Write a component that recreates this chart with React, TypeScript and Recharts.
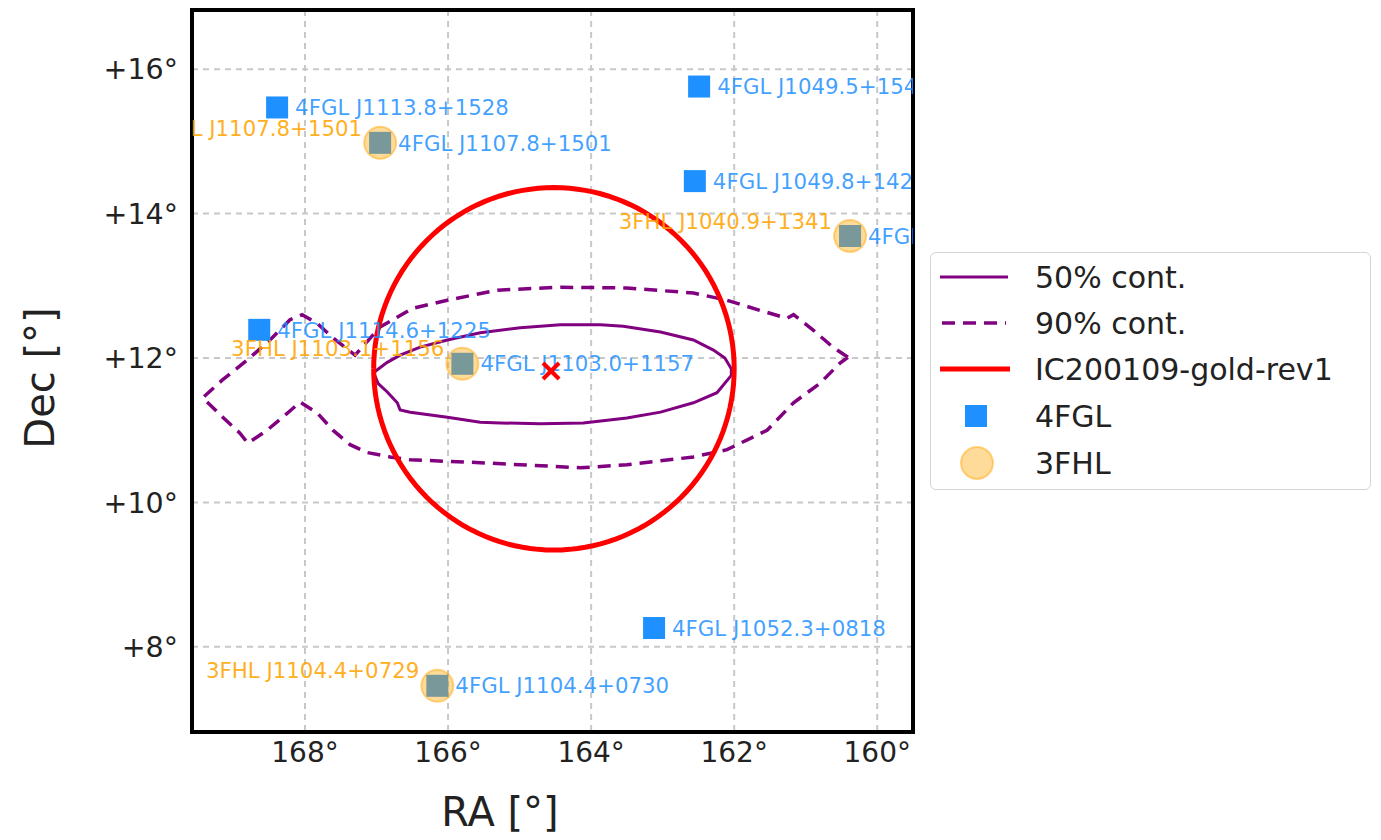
import React from 'react';
import { ComposedChart, Line, Scatter, XAxis, YAxis, CartesianGrid, ReferenceArea } from 'recharts';

const FONT = '"DejaVu Sans", sans-serif';

const RA_TICKS = [168, 166, 164, 162, 160];
const DEC_TICKS = [8, 10, 12, 14, 16];
const RA_DOMAIN: [number, number] = [159.5, 169.58];
const DEC_DOMAIN: [number, number] = [6.82, 16.82];

// 4FGL sources (blue squares)
const FGL4 = [
  { name: '4FGL J1113.8+1528', ra: 168.39, dec: 15.47 },
  { name: '4FGL J1107.8+1501', ra: 166.95, dec: 14.98 },
  { name: '4FGL J1049.5+1548', ra: 162.49, dec: 15.76 },
  { name: '4FGL J1049.8+1429', ra: 162.55, dec: 14.45 },
  { name: '4FGL J1040.8+1342', ra: 160.38, dec: 13.69 },
  { name: '4FGL J1114.6+1225', ra: 168.64, dec: 12.39 },
  { name: '4FGL J1103.0+1157', ra: 165.8, dec: 11.92 },
  { name: '4FGL J1052.3+0818', ra: 163.12, dec: 8.26 },
  { name: '4FGL J1104.4+0730', ra: 166.15, dec: 7.46 },
];

// 3FHL sources (orange circles)
const FHL3 = [
  { name: '3FHL J1107.8+1501', ra: 166.95, dec: 14.98 },
  { name: '3FHL J1040.9+1341', ra: 160.38, dec: 13.69 },
  { name: '3FHL J1103.1+1156', ra: 165.8, dec: 11.92 },
  { name: '3FHL J1104.4+0729', ra: 166.15, dec: 7.46 },
];

// 50% containment contour
const CONT50 = [
  { ra: 167.04, dec: 11.8 },
  { ra: 166.85, dec: 11.94 },
  { ra: 166.67, dec: 12.04 },
  { ra: 166.39, dec: 12.15 },
  { ra: 166.01, dec: 12.25 },
  { ra: 165.55, dec: 12.35 },
  { ra: 164.99, dec: 12.42 },
  { ra: 164.43, dec: 12.46 },
  { ra: 163.87, dec: 12.46 },
  { ra: 163.55, dec: 12.44 },
  { ra: 163.03, dec: 12.36 },
  { ra: 162.57, dec: 12.25 },
  { ra: 162.29, dec: 12.11 },
  { ra: 162.13, dec: 12.0 },
  { ra: 162.04, dec: 11.85 },
  { ra: 162.04, dec: 11.76 },
  { ra: 162.24, dec: 11.52 },
  { ra: 162.57, dec: 11.38 },
  { ra: 163.03, dec: 11.25 },
  { ra: 163.5, dec: 11.17 },
  { ra: 164.11, dec: 11.1 },
  { ra: 164.71, dec: 11.09 },
  { ra: 165.27, dec: 11.1 },
  { ra: 165.55, dec: 11.11 },
  { ra: 166.01, dec: 11.18 },
  { ra: 166.53, dec: 11.25 },
  { ra: 166.67, dec: 11.28 },
  { ra: 166.71, dec: 11.38 },
  { ra: 166.85, dec: 11.53 },
  { ra: 166.98, dec: 11.65 },
  { ra: 167.04, dec: 11.8 },
];

// 90% containment contour
const CONT90 = [
  { ra: 160.41, dec: 12.01 },
  { ra: 160.62, dec: 12.15 },
  { ra: 160.9, dec: 12.39 },
  { ra: 161.17, dec: 12.6 },
  { ra: 161.26, dec: 12.55 },
  { ra: 161.64, dec: 12.66 },
  { ra: 162.1, dec: 12.8 },
  { ra: 162.57, dec: 12.9 },
  { ra: 163.5, dec: 12.97 },
  { ra: 164.43, dec: 12.98 },
  { ra: 165.31, dec: 12.94 },
  { ra: 166.01, dec: 12.8 },
  { ra: 166.49, dec: 12.69 },
  { ra: 166.95, dec: 12.43 },
  { ra: 167.3, dec: 12.04 },
  { ra: 167.61, dec: 12.28 },
  { ra: 167.83, dec: 12.48 },
  { ra: 168.04, dec: 12.6 },
  { ra: 168.21, dec: 12.53 },
  { ra: 168.49, dec: 12.25 },
  { ra: 168.81, dec: 11.97 },
  { ra: 169.15, dec: 11.7 },
  { ra: 169.43, dec: 11.45 },
  { ra: 169.15, dec: 11.18 },
  { ra: 168.91, dec: 10.96 },
  { ra: 168.8, dec: 10.82 },
  { ra: 168.53, dec: 11.0 },
  { ra: 168.31, dec: 11.18 },
  { ra: 168.07, dec: 11.39 },
  { ra: 167.83, dec: 11.24 },
  { ra: 167.61, dec: 11.0 },
  { ra: 167.37, dec: 10.8 },
  { ra: 167.13, dec: 10.69 },
  { ra: 166.81, dec: 10.63 },
  { ra: 166.53, dec: 10.59 },
  { ra: 165.55, dec: 10.55 },
  { ra: 164.15, dec: 10.48 },
  { ra: 163.5, dec: 10.52 },
  { ra: 162.57, dec: 10.63 },
  { ra: 162.1, dec: 10.73 },
  { ra: 161.54, dec: 11.0 },
  { ra: 161.17, dec: 11.38 },
  { ra: 160.8, dec: 11.65 },
  { ra: 160.52, dec: 11.93 },
  { ra: 160.41, dec: 12.01 },
];

// IC200109-gold-rev1 error circle
const IC_CENTER = { ra: 164.52, dec: 11.85 };
const IC_RADIUS = { ra: 2.52, dec: 2.51 };
const IC_BEST = [{ ra: 164.56, dec: 11.82 }];
const IC_CIRCLE = Array.from({ length: 145 }, (_, i) => {
  const t = (i / 144) * 2 * Math.PI;
  return {
    ra: IC_CENTER.ra + IC_RADIUS.ra * Math.cos(t),
    dec: IC_CENTER.dec + IC_RADIUS.dec * Math.sin(t),
  };
});

const LEGEND_ITEMS = ['50% cont.', '90% cont.', 'IC200109-gold-rev1', '4FGL', '3FHL'];

const BLUE = '#1E90FF';
const ORANGE = '#FFA500';
const PURPLE = '#800080';

const FglShape = (props: any) => {
  const { cx, cy, payload } = props;
  return (
    <g clipPath="url(#plot-clip)">
      <rect x={cx - 11} y={cy - 11} width={22} height={22} fill={BLUE} />
      <text x={cx + 18} y={cy} dy="0.36em" fontSize={21.3} fontFamily={FONT} fill={BLUE} fillOpacity={0.85}>
        {payload.name}
      </text>
    </g>
  );
};

const FhlShape = (props: any) => {
  const { cx, cy, payload } = props;
  return (
    <g clipPath="url(#plot-clip)">
      <circle cx={cx} cy={cy} r={16} fill={ORANGE} fillOpacity={0.4} stroke={ORANGE} strokeOpacity={0.45} strokeWidth={2} />
      <text x={cx - 18} y={cy - 15} dy="0.36em" textAnchor="end" fontSize={21.3} fontFamily={FONT} fill={ORANGE} fillOpacity={0.9}>
        {payload.name}
      </text>
    </g>
  );
};

const CrossShape = (props: any) => {
  const { cx, cy } = props;
  return (
    <g stroke="red" strokeWidth={4}>
      <line x1={cx - 8} y1={cy - 8} x2={cx + 8} y2={cy + 8} />
      <line x1={cx - 8} y1={cy + 8} x2={cx + 8} y2={cy - 8} />
    </g>
  );
};

function LegendBox() {
  const rowY = [25, 71, 117, 164, 211];
  return (
    <div style={{ position: 'absolute', left: 930, top: 252, width: 441, height: 238, border: '1.5px solid #d4d4d4', borderRadius: 6, background: '#fff', boxSizing: 'border-box' }}>
      <svg width={441} height={238} style={{ position: 'absolute', left: -1.5, top: -1.5 }}>
        <line x1={10} x2={78} y1={rowY[0]} y2={rowY[0]} stroke={PURPLE} strokeWidth={3} />
        <line x1={12} x2={76} y1={rowY[1]} y2={rowY[1]} stroke={PURPLE} strokeWidth={3.5} strokeDasharray="13 8" />
        <line x1={10} x2={80} y1={rowY[2]} y2={rowY[2]} stroke="red" strokeWidth={5} />
        <rect x={35} y={rowY[3] - 11} width={22} height={22} fill={BLUE} />
        <circle cx={47} cy={rowY[4]} r={16} fill={ORANGE} fillOpacity={0.4} stroke={ORANGE} strokeOpacity={0.45} strokeWidth={2} />
        {LEGEND_ITEMS.map((t, i) => (
          <text key={t} x={105} y={rowY[i]} dy="0.36em" fontSize={30} fontFamily={FONT} fill="#222">
            {t}
          </text>
        ))}
      </svg>
    </div>
  );
}

export default function App() {
  return (
    <div style={{ position: 'absolute', left: 0, top: 0, width: 1381, height: 840, background: '#fff' }}>
      <ComposedChart width={1381} height={840} margin={{ top: 10, right: 468, bottom: 0, left: 0 }}>
        <defs>
          <clipPath id="plot-clip">
            <rect x={192} y={10} width={721} height={722} />
          </clipPath>
        </defs>
        <CartesianGrid stroke="#c8c8c8" strokeWidth={2} strokeDasharray="6 5" />
        <XAxis
          dataKey="ra"
          type="number"
          domain={RA_DOMAIN}
          allowDataOverflow
          reversed
          ticks={RA_TICKS}
          tickFormatter={(v: number) => `${v}°`}
          tick={{ fontSize: 28, fontFamily: FONT, fill: '#222' }}
          tickLine={false}
          axisLine={false}
          tickSize={0}
          tickMargin={10}
          height={108}
        />
        <YAxis
          dataKey="dec"
          type="number"
          domain={DEC_DOMAIN}
          allowDataOverflow
          ticks={DEC_TICKS}
          tickFormatter={(v: number) => `+${v}°`}
          tick={{ fontSize: 28.5, fontFamily: FONT, fill: '#222' }}
          tickLine={false}
          axisLine={false}
          tickSize={0}
          tickMargin={14}
          width={192}
        />
        <Scatter data={FGL4} dataKey="dec" shape={FglShape} isAnimationActive={false} />
        <Scatter data={FHL3} dataKey="dec" shape={FhlShape} isAnimationActive={false} />
        <Line data={CONT90} dataKey="dec" type="linear" stroke={PURPLE} strokeWidth={3.5} strokeDasharray="13 8" dot={false} activeDot={false} isAnimationActive={false} />
        <Line data={CONT50} dataKey="dec" type="linear" stroke={PURPLE} strokeWidth={3} dot={false} activeDot={false} isAnimationActive={false} />
        <Line data={IC_CIRCLE} dataKey="dec" type="linear" stroke="red" strokeWidth={5} dot={false} activeDot={false} isAnimationActive={false} />
        <Scatter data={IC_BEST} dataKey="dec" shape={CrossShape} isAnimationActive={false} />
        <ReferenceArea x1={RA_DOMAIN[0]} x2={RA_DOMAIN[1]} y1={DEC_DOMAIN[0]} y2={DEC_DOMAIN[1]} fill="none" stroke="#000" strokeWidth={4} ifOverflow="visible" />
        <text x={500} y={826} textAnchor="middle" fontSize={40} fontFamily={FONT} fill="#222">
          RA [°]
        </text>
        <text transform="translate(54,378) rotate(-90)" textAnchor="middle" fontSize={40} fontFamily={FONT} fill="#222">
          Dec [°]
        </text>
      </ComposedChart>
      <LegendBox />
    </div>
  );
}
